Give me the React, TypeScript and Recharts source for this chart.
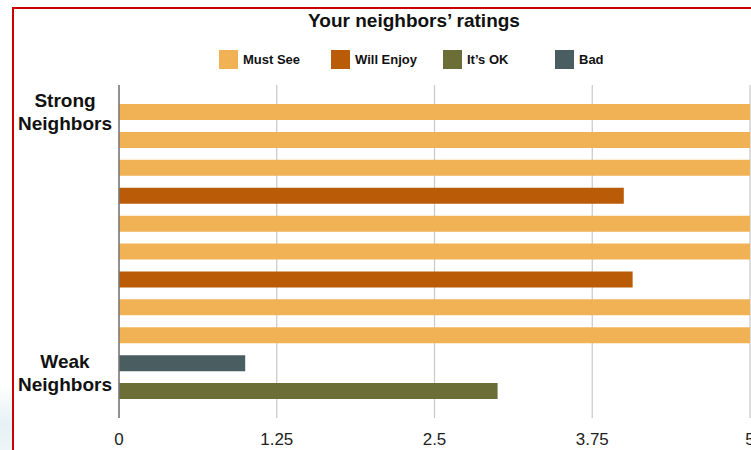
import { BarChart, Bar, XAxis, YAxis, CartesianGrid } from "recharts";

const categories = [
  "Strong 1", "Strong 2", "Strong 3", "Strong 4", "Strong 5",
  "Strong 6", "Strong 7", "Strong 8", "Strong 9", "Weak 1", "Weak 2",
];
const mustSee = [5, 5, 5, 0, 5, 5, 0, 5, 5, 0, 0];
const willEnjoy = [0, 0, 0, 4, 0, 0, 4.07, 0, 0, 0, 0];
const itsOk = [0, 0, 0, 0, 0, 0, 0, 0, 0, 0, 3];
const bad = [0, 0, 0, 0, 0, 0, 0, 0, 0, 1, 0];
const xTicks = [0, 1.25, 2.5, 3.75, 5];

const seriesNames = ["Must See", "Will Enjoy", "It’s OK", "Bad"];
const seriesKeys = ["mustSee", "willEnjoy", "itsOk", "bad"];
const seriesColors = ["#F0B254", "#BA5B07", "#6B6E37", "#4A5E62"];

// group labels drawn on the y axis
const groupLabels = [
  { row: 0, lines: ["Strong", "Neighbors"], shift: 0 },
  { row: 10, lines: ["Weak", "Neighbors"], shift: -19 },
];

const data = categories.map((row, i) => ({
  row,
  mustSee: mustSee[i],
  willEnjoy: willEnjoy[i],
  itsOk: itsOk[i],
  bad: bad[i],
}));

const FONT = "'Liberation Sans', Arial, Helvetica, sans-serif";

function GroupTick(props: any) {
  const { x, y, payload } = props;
  const idx = payload?.index ?? props.index;
  const g = groupLabels.find((l) => l.row === idx);
  if (!g) return null;
  const cy = y + g.shift;
  return (
    <text
      x={x - 46}
      y={cy}
      textAnchor="middle"
      fontFamily={FONT}
      fontWeight="bold"
      fontSize={19}
      fill="#111"
    >
      <tspan x={x - 46} dy={-4.5}>{g.lines[0]}</tspan>
      <tspan x={x - 46} dy={23}>{g.lines[1]}</tspan>
    </text>
  );
}

export default function App() {
  return (
    <div
      style={{
        position: "fixed",
        left: 0,
        top: 0,
        width: 751,
        height: 450,
        overflow: "hidden",
        background: "#fff",
        fontFamily: FONT,
      }}
    >
      <div
        style={{
          position: "absolute",
          left: 0,
          top: 385,
          width: 12,
          height: 65,
          background: "linear-gradient(180deg, #ffffff 0%, #e6f1f3 60%, #eef5f6 100%)",
        }}
      />
      <div
        style={{
          position: "absolute",
          left: 12,
          top: 7,
          width: 820,
          height: 500,
          borderLeft: "2px solid #CC0000",
          borderTop: "2px solid #CC0000",
        }}
      />
      <div
        style={{
          position: "absolute",
          left: 0,
          top: 8,
          width: 828,
          textAlign: "center",
          fontSize: 19,
          fontWeight: "bold",
          lineHeight: "26px",
          color: "#111",
        }}
      >
        Your neighbors’ ratings
      </div>
      <div
        style={{
          position: "absolute",
          left: 219,
          top: 50,
          display: "flex",
          alignItems: "center",
          height: 19,
        }}
      >
        {seriesNames.map((name, i) => (
          <div key={name} style={{ display: "flex", alignItems: "center", width: 112 }}>
            <div style={{ width: 19, height: 19, background: seriesColors[i], marginRight: 5 }} />
            <span style={{ fontSize: 13, fontWeight: "bold", color: "#111" }}>{name}</span>
          </div>
        ))}
      </div>
      <div style={{ position: "absolute", left: 0, top: 0 }}>
        <BarChart
          width={760}
          height={450}
          data={data}
          layout="vertical"
          margin={{ top: 85, right: 10, bottom: 2, left: 0 }}
        >
          <CartesianGrid horizontal={false} stroke="#c8c8c8" strokeWidth={1.2} />
          <XAxis
            type="number"
            domain={[0, 5]}
            ticks={xTicks}
            axisLine={false}
            tickLine={false}
            tickMargin={9}
            height={30}
            tick={{ fontSize: 17, fill: "#222", fontFamily: FONT }}
          />
          <YAxis
            type="category"
            dataKey="row"
            width={119}
            padding={{ top: 13, bottom: 13 }}
            axisLine={{ stroke: "#777", strokeWidth: 1.5 }}
            tickLine={false}
            interval={0}
            tick={<GroupTick />}
          />
          {seriesKeys.map((k, i) => (
            <Bar
              key={k}
              dataKey={k}
              name={seriesNames[i]}
              stackId="s"
              fill={seriesColors[i]}
              barSize={16}
              isAnimationActive={false}
            />
          ))}
        </BarChart>
      </div>
    </div>
  );
}
